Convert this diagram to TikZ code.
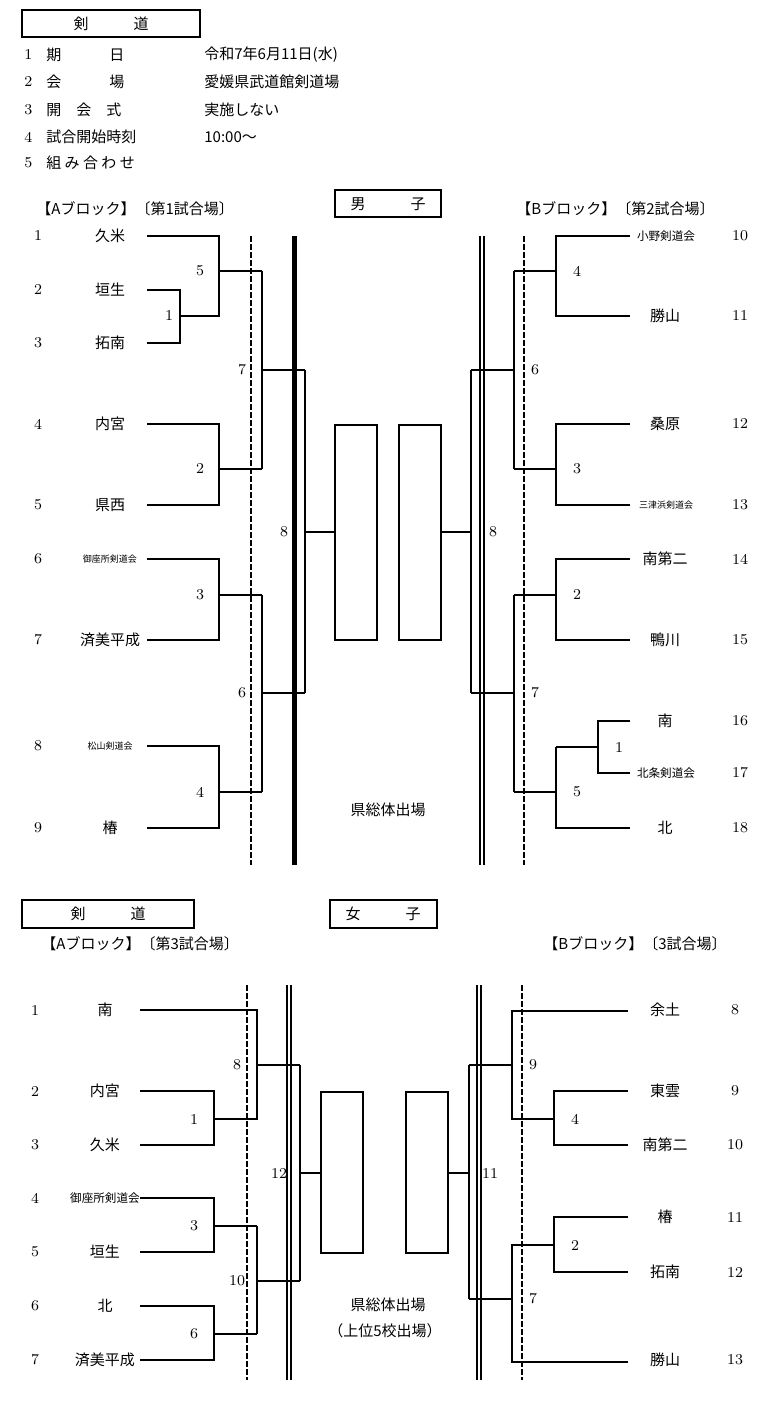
\documentclass[tikz,border=0pt]{standalone}
\usepackage{fontspec}
\newfontfamily\jp{Noto Sans CJK JP}
\begin{document}
\begin{tikzpicture}[x=0.5pt,y=-0.5pt,
  ln/.style={line width=1.2pt},
  dsh/.style={line width=0.7pt,dashed,dash pattern=on 3pt off 1pt},
  dbl/.style={line width=0.8pt,double,double distance=1.4pt},
  txt/.style={font=\jp\fontsize{7.5}{8}\selectfont,inner sep=0pt},
  sm/.style={font=\jp\fontsize{4.5}{5}\selectfont,inner sep=0pt},
  md/.style={font=\jp\fontsize{5.8}{6}\selectfont,inner sep=0pt},
  num/.style={font=\fontsize{7.5}{8}\selectfont,inner sep=0pt},
  box/.style={draw,line width=1.2pt}]
\useasboundingbox (0,0) rectangle (781,1415);
% header
\draw[box] (22,10) rectangle (200,37);
\node[txt] (h0) at (111,24) {剣\hspace{3em}道};
\foreach \n/\y/\a/\b in {1/55/期\hspace{3.2em}日/令和7年6月11日(水),2/82/会\hspace{3.2em}場/愛媛県武道館剣道場,3/110/開\hspace{1em}会\hspace{1em}式/実施しない,4/137/試合開始時刻/10:00～,5/163/組 み 合 わ せ/}{
  \node[num,anchor=west] (hn\n) at (24,\y) {\n};
  \node[txt,anchor=west] (ha\n) at (46,\y) {\a};
  \node[txt,anchor=west] (hb\n) at (204,\y) {\b};
}
% men
\draw[box] (335,190) rectangle (441,217);
\node[txt] (men) at (388,204) {男\hspace{3em}子};
\node[txt,anchor=west] (ba) at (36,209) {【Aブロック】〔第1試合場〕};
\node[txt,anchor=west] (bb) at (516,209) {【Bブロック】〔第2試合場〕};
\foreach \n/\y/\t in {1/236/久米,2/290/垣生,3/343/拓南,4/424/内宮,5/505/県西,7/640/済美平成,9/828/椿}{
  \node[num] (ln\n) at (38,\y) {\n}; \node[txt] (lt\n) at (110,\y) {\t};}
\foreach \n/\y/\t in {6/559/御座所剣道会,8/746/松山剣道会}{
  \node[num] (ln\n) at (38,\y) {\n}; \node[sm] (lt\n) at (110,\y) {\t};}
\foreach \n/\y/\t in {11/316/勝山,12/424/桑原,14/559/南第二,15/640/鴨川,16/721/南,18/828/北}{
  \node[num] (rn\n) at (740,\y) {\n}; \node[txt] (rt\n) at (665,\y) {\t};}
\node[num] (rn10) at (740,236) {10}; \node[md] (rt10) at (666,236) {小野剣道会};
\node[num] (rn13) at (740,505) {13}; \node[sm] (rt13) at (666,505) {三津浜剣道会};
\node[num] (rn17) at (740,773) {17}; \node[md] (rt17) at (666,773) {北条剣道会};
\draw[dsh] (251,236)--(251,865);
\draw[line width=2.5pt] (294,236)--(294,865);
\draw[ln] (147,236)--(219,236)--(219,316)--(180,316);
\draw[ln] (147,290)--(180,290)--(180,343)--(147,343);
\draw[ln] (219,271)--(262,271);
\draw[ln] (147,424)--(219,424)--(219,505)--(147,505);
\draw[ln] (219,469)--(262,469);
\draw[ln] (262,271)--(262,469);
\draw[ln] (262,370)--(305,370);
\draw[ln] (147,559)--(219,559)--(219,640)--(147,640);
\draw[ln] (219,595)--(262,595);
\draw[ln] (147,746)--(219,746)--(219,828)--(147,828);
\draw[ln] (219,792)--(262,792);
\draw[ln] (262,595)--(262,792);
\draw[ln] (262,693)--(305,693);
\draw[ln] (305,370)--(305,693);
\draw[ln] (305,532)--(335,532);
\draw[box] (335,425) rectangle (377,640);
\draw[box] (399,425) rectangle (441,640);
\foreach \t/\x/\y in {1/169/316,5/200/271,2/200/469,7/242/370,3/200/595,4/200/792,6/242/693,8/284/532}{
  \node[num] (lm\t) at (\x,\y) {\t};}
\draw[dbl] (482,236)--(482,865);
\draw[dsh] (524,236)--(524,865);
\draw[ln] (441,532)--(471,532);
\draw[ln] (471,370)--(471,693);
\draw[ln] (471,370)--(514,370);
\draw[ln] (514,271)--(514,469);
\draw[ln] (514,271)--(556,271);
\draw[ln] (630,236)--(556,236)--(556,316)--(630,316);
\draw[ln] (514,469)--(556,469);
\draw[ln] (630,424)--(556,424)--(556,505)--(630,505);
\draw[ln] (471,693)--(514,693);
\draw[ln] (514,595)--(514,792);
\draw[ln] (514,595)--(556,595);
\draw[ln] (630,559)--(556,559)--(556,640)--(630,640);
\draw[ln] (514,792)--(556,792);
\draw[ln] (556,747)--(556,828)--(630,828);
\draw[ln] (556,747)--(598,747);
\draw[ln] (630,721)--(598,721)--(598,773)--(630,773);
\foreach \t/\x/\y in {8/493/532,6/535/370,4/577/271,3/577/469,7/535/693,2/577/595,5/577/792,1/619/747}{
  \node[num] (rm\t) at (\x,\y) {\t};}
\node[txt] (q1) at (388,810) {県総体出場};
% women
\draw[box] (22,900) rectangle (194,928);
\node[txt] (h1) at (108,914) {剣\hspace{3em}道};
\draw[box] (330,900) rectangle (437,928);
\node[txt] (wom) at (383,914) {女\hspace{3em}子};
\node[txt,anchor=west] (wa) at (41,944) {【Aブロック】〔第3試合場〕};
\node[txt,anchor=west] (wb) at (543,944) {【Bブロック】〔3試合場〕};
\foreach \n/\y/\t in {1/1010/南,2/1091/内宮,3/1145/久米,5/1252/垣生,6/1306/北,7/1360/済美平成}{
  \node[num] (wn\n) at (35,\y) {\n}; \node[txt] (wt\n) at (105,\y) {\t};}
\node[num] (wn4) at (35,1198) {4}; \node[md] (wt4) at (105,1198) {御座所剣道会};
\foreach \n/\y/\t in {8/1010/余土,9/1091/東雲,10/1145/南第二,11/1217/椿,12/1272/拓南,13/1360/勝山}{
  \node[num] (wr\n) at (735,\y) {\n}; \node[txt] (wrt\n) at (665,\y) {\t};}
\draw[dsh] (247,985)--(247,1380);
\draw[dbl] (289,985)--(289,1380);
\draw[ln] (140,1010)--(257,1010)--(257,1119)--(214,1119);
\draw[ln] (140,1091)--(214,1091)--(214,1145)--(140,1145);
\draw[ln] (257,1065)--(300,1065);
\draw[ln] (140,1198)--(214,1198)--(214,1252)--(140,1252);
\draw[ln] (214,1226)--(257,1226);
\draw[ln] (140,1306)--(214,1306)--(214,1360)--(140,1360);
\draw[ln] (214,1334)--(257,1334);
\draw[ln] (257,1226)--(257,1334);
\draw[ln] (257,1281)--(300,1281);
\draw[ln] (300,1065)--(300,1281);
\draw[ln] (300,1173)--(321,1173);
\draw[box] (321,1092) rectangle (363,1253);
\draw[box] (406,1092) rectangle (448,1253);
\foreach \t/\x/\y in {1/194/1119,8/237/1065,3/194/1226,6/194/1334,10/237/1281,12/279/1173}{
  \node[num] (wl\t) at (\x,\y) {\t};}
\draw[dbl] (479,985)--(479,1380);
\draw[dsh] (522,985)--(522,1380);
\draw[ln] (448,1173)--(469,1173);
\draw[ln] (469,1065)--(469,1299);
\draw[ln] (469,1065)--(512,1065);
\draw[ln] (628,1011)--(512,1011)--(512,1119)--(554,1119);
\draw[ln] (628,1091)--(554,1091)--(554,1145)--(628,1145);
\draw[ln] (469,1299)--(512,1299);
\draw[ln] (554,1245)--(512,1245)--(512,1362)--(628,1362);
\draw[ln] (628,1217)--(554,1217)--(554,1272)--(628,1272);
\foreach \t/\x/\y in {11/490/1173,9/533/1065,4/575/1119,2/575/1245,7/533/1299}{
  \node[num] (wrm\t) at (\x,\y) {\t};}
\node[txt] (q2) at (388,1305) {県総体出場};
\node[txt] (q3) at (385,1331) {（上位5校出場）};
\end{tikzpicture}
\end{document}
